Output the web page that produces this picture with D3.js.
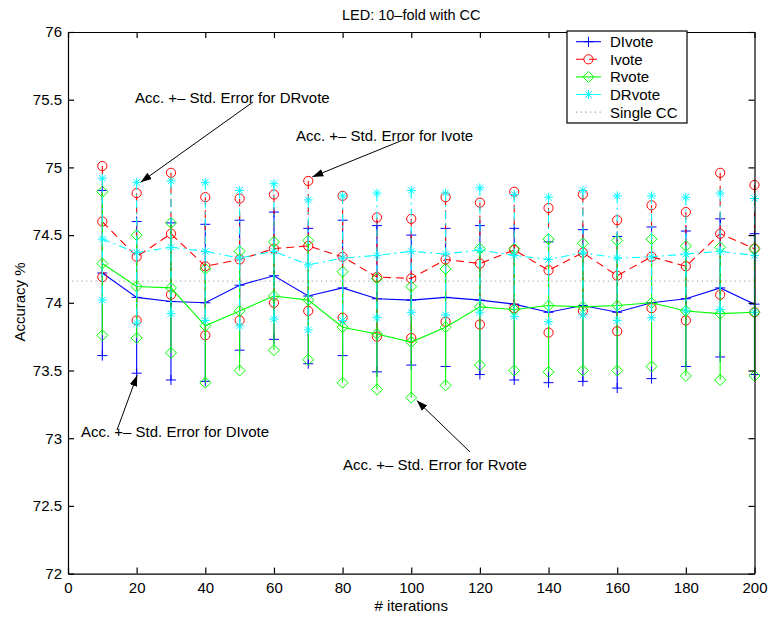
<!DOCTYPE html>
<html>
<head>
<meta charset="utf-8">
<script src="https://cdn.jsdelivr.net/npm/d3@7"></script>
<style>
  body { margin: 0; background: #fff; }
  svg text { font-family: "Liberation Sans", Arial, Helvetica, sans-serif; }
</style>
</head>
<body>
<div id="chart"></div>
<script>
// podaci ocitani sa slike (srednja vrijednost i std. greska)
var iterations = [10, 20, 30, 40, 50, 60, 70, 80, 90, 100, 110, 120, 130, 140, 150, 160, 170, 180, 190, 200];

var dIvoteMean = [74.22, 74.04, 74.01, 74.00, 74.13, 74.20, 74.05, 74.11, 74.03, 74.02, 74.04, 74.02, 73.99, 73.93, 73.98, 73.93, 74.00, 74.03, 74.11, 73.99];
var dIvoteErr  = [0.61, 0.56, 0.58, 0.58, 0.48, 0.47, 0.50, 0.50, 0.54, 0.48, 0.51, 0.55, 0.56, 0.52, 0.56, 0.56, 0.56, 0.50, 0.51, 0.52];

var ivoteMean = [74.60, 74.34, 74.51, 74.27, 74.32, 74.40, 74.42, 74.34, 74.19, 74.18, 74.32, 74.29, 74.39, 74.24, 74.37, 74.20, 74.34, 74.27, 74.51, 74.40];
var ivoteErr  = [0.41, 0.47, 0.45, 0.51, 0.45, 0.40, 0.48, 0.45, 0.44, 0.44, 0.46, 0.45, 0.43, 0.46, 0.43, 0.41, 0.38, 0.40, 0.45, 0.47];

var rvoteMean = [74.29, 74.12, 74.11, 73.83, 73.94, 74.05, 74.02, 73.82, 73.77, 73.71, 73.82, 73.97, 73.95, 73.98, 73.97, 73.98, 74.00, 73.94, 73.92, 73.93];
var rvoteErr  = [0.53, 0.38, 0.48, 0.42, 0.44, 0.40, 0.44, 0.41, 0.41, 0.41, 0.43, 0.43, 0.45, 0.49, 0.47, 0.48, 0.47, 0.48, 0.49, 0.47];

var dRvoteMean = [74.47, 74.37, 74.41, 74.38, 74.33, 74.38, 74.28, 74.33, 74.35, 74.38, 74.36, 74.39, 74.35, 74.32, 74.37, 74.33, 74.34, 74.36, 74.38, 74.35];
var dRvoteErr  = [0.45, 0.52, 0.49, 0.51, 0.50, 0.50, 0.48, 0.46, 0.46, 0.45, 0.45, 0.46, 0.45, 0.46, 0.46, 0.46, 0.45, 0.42, 0.43, 0.42];

var singleCC = 74.16;

var xTicks = [0, 20, 40, 60, 80, 100, 120, 140, 160, 180, 200];
var yTicks = [72, 72.5, 73, 73.5, 74, 74.5, 75, 75.5, 76];

var seriesNames = ["DIvote", "Ivote", "Rvote", "DRvote"];

function drawChart() {
    var width = 769, height = 618;
    var margin = { top: 32, right: 14.5, bottom: 44.4, left: 68 };
    var w = width - margin.left - margin.right;
    var h = height - margin.top - margin.bottom;

    var x = d3.scaleLinear().domain([0, 200]).range([0, w]);
    var y = d3.scaleLinear().domain([72, 76]).range([h, 0]);

    var svg = d3.select("#chart")
        .append("svg")
        .attr("width", width)
        .attr("height", height)
        .style("background-color", "#fff");

    var defs = svg.append("defs");
    defs.append("marker")
        .attr("id", "arrow")
        .attr("viewBox", "0 0 10 10")
        .attr("refX", 10)
        .attr("refY", 5)
        .attr("markerWidth", 11)
        .attr("markerHeight", 11)
        .attr("markerUnits", "userSpaceOnUse")
        .attr("orient", "auto")
        .append("path")
        .attr("d", "M0,1.5 L10,5 L0,8.5 Z")
        .attr("fill", "#000");

    var g = svg.append("g")
        .attr("transform", "translate(" + margin.left + "," + margin.top + ")");

    // stil za svaku seriju
    var series = [
        { name: seriesNames[0], mean: dIvoteMean, err: dIvoteErr, color: "#0000ff", dash: null, marker: "plus" },
        { name: seriesNames[1], mean: ivoteMean, err: ivoteErr, color: "#ff0000", dash: "8,5", marker: "circle" },
        { name: seriesNames[2], mean: rvoteMean, err: rvoteErr, color: "#00ff00", dash: null, marker: "diamond" },
        { name: seriesNames[3], mean: dRvoteMean, err: dRvoteErr, color: "#00ffff", dash: "8,4,2,4", marker: "star" }
    ];

    function markerPath(type, cx, cy) {
        if (type === "plus") {
            var s = 5;
            return "M" + (cx - s) + "," + cy + "H" + (cx + s) + "M" + cx + "," + (cy - s) + "V" + (cy + s);
        }
        if (type === "diamond") {
            var d = 5.5;
            return "M" + cx + "," + (cy - d) + "L" + (cx + d) + "," + cy + "L" + cx + "," + (cy + d) + "L" + (cx - d) + "," + cy + "Z";
        }
        if (type === "star") {
            var a = 4.5, b = 3.2;
            return "M" + (cx - a) + "," + cy + "H" + (cx + a) + "M" + cx + "," + (cy - a) + "V" + (cy + a) +
                "M" + (cx - b) + "," + (cy - b) + "L" + (cx + b) + "," + (cy + b) +
                "M" + (cx - b) + "," + (cy + b) + "L" + (cx + b) + "," + (cy - b);
        }
        return "";
    }

    function drawMarker(sel, type, cx, cy, color) {
        if (type === "circle") {
            sel.append("circle")
                .attr("cx", cx).attr("cy", cy).attr("r", 4.6)
                .attr("fill", "none").attr("stroke", color).attr("stroke-width", 1);
        } else {
            sel.append("path")
                .attr("d", markerPath(type, cx, cy))
                .attr("fill", "none").attr("stroke", color).attr("stroke-width", 1);
        }
    }

    // Single CC linija
    g.append("line")
        .attr("x1", x(0) + 4).attr("x2", x(200))
        .attr("y1", y(singleCC)).attr("y2", y(singleCC))
        .attr("stroke", "#999")
        .attr("stroke-dasharray", "1.2,3.5");

    var line = d3.line()
        .x(function (d, i) { return x(iterations[i]); })
        .y(function (d) { return y(d); });

    series.forEach(function (s) {
        var sg = g.append("g").attr("class", "series");

        sg.append("path")
            .datum(s.mean)
            .attr("d", line)
            .attr("fill", "none")
            .attr("stroke", s.color)
            .attr("stroke-width", 1.1)
            .attr("stroke-dasharray", s.dash);

        // vertikalne linije za +- std. error
        sg.selectAll(".bar")
            .data(s.mean)
            .enter()
            .append("line")
            .attr("class", "bar")
            .attr("x1", function (d, i) { return x(iterations[i]); })
            .attr("x2", function (d, i) { return x(iterations[i]); })
            .attr("y1", function (d, i) { return y(d + s.err[i]); })
            .attr("y2", function (d, i) { return y(d - s.err[i]); })
            .attr("stroke", s.color)
            .attr("stroke-width", 1.1)
            .attr("stroke-dasharray", s.dash);

        s.mean.forEach(function (m, i) {
            var cx = x(iterations[i]);
            drawMarker(sg, s.marker, cx, y(m + s.err[i]), s.color);
            drawMarker(sg, s.marker, cx, y(m), s.color);
            drawMarker(sg, s.marker, cx, y(m - s.err[i]), s.color);
        });
    });

    // osi (MATLAB stil, crtice prema unutra)
    var fmt = function (d) { return d % 1 === 0 ? d : d.toFixed(1); };

    g.append("g")
        .attr("transform", "translate(0," + h + ")")
        .call(d3.axisBottom(x).tickValues(xTicks).tickSizeInner(-6).tickSizeOuter(0).tickPadding(9));
    g.append("g")
        .call(d3.axisLeft(y).tickValues(yTicks).tickFormat(fmt).tickSizeInner(-6).tickSizeOuter(0).tickPadding(6));
    g.append("g")
        .call(d3.axisTop(x).tickValues(xTicks).tickFormat("").tickSizeInner(-6).tickSizeOuter(0));
    g.append("g")
        .attr("transform", "translate(" + w + ",0)")
        .call(d3.axisRight(y).tickValues(yTicks).tickFormat("").tickSizeInner(-6).tickSizeOuter(0));

    g.selectAll(".tick text")
        .style("font-size", "15px")
        .attr("fill", "#000");
    g.selectAll(".domain, .tick line")
        .attr("stroke", "#000")
        .attr("stroke-width", 1.2);

    // naslov i nazivi osi
    svg.append("text")
        .attr("x", margin.left + w / 2)
        .attr("y", 20)
        .attr("text-anchor", "middle")
        .style("font-size", "14.5px")
        .text("LED: 10\u2013fold with CC");

    svg.append("text")
        .attr("x", margin.left + w / 2)
        .attr("y", 611)
        .attr("text-anchor", "middle")
        .style("font-size", "15px")
        .text("# iterations");

    svg.append("text")
        .attr("transform", "rotate(-90)")
        .attr("x", -302)
        .attr("y", 25)
        .attr("text-anchor", "middle")
        .style("font-size", "15px")
        .text("Accuracy %");

    // anotacije sa strelicama
    var notes = [
        { text: "Acc. +\u2013 Std. Error for DRvote", tx: 135, ty: 103, ax: 253, ay: 102, px: 20, pv: dRvoteMean[1] + dRvoteErr[1], dx: 4, dy: 0 },
        { text: "Acc. +\u2013 Std. Error for Ivote", tx: 296, ty: 141, ax: 403, ay: 140, px: 70, pv: ivoteMean[6] + ivoteErr[6], dx: 4, dy: -4 },
        { text: "Acc. +\u2013 Std. Error for DIvote", tx: 81, ty: 437, ax: 117, ay: 430, px: 20, pv: dIvoteMean[1] - dIvoteErr[1], dx: 0.5, dy: 2 },
        { text: "Acc. +\u2013 Std. Error for Rvote", tx: 343, ty: 470, ax: 470, ay: 452, px: 100, pv: rvoteMean[9] - rvoteErr[9], dx: 5.5, dy: 3 }
    ];

    notes.forEach(function (n) {
        svg.append("line")
            .attr("x1", n.ax).attr("y1", n.ay)
            .attr("x2", margin.left + x(n.px) + n.dx)
            .attr("y2", margin.top + y(n.pv) + n.dy)
            .attr("stroke", "#000")
            .attr("stroke-width", 1)
            .attr("marker-end", "url(#arrow)");
        svg.append("text")
            .attr("x", n.tx)
            .attr("y", n.ty)
            .style("font-size", "15px")
            .text(n.text);
    });

    // legenda
    var legend = svg.append("g").attr("transform", "translate(567,31)");
    legend.append("rect")
        .attr("width", 120).attr("height", 92)
        .attr("fill", "#fff").attr("stroke", "#000").attr("stroke-width", 1.2);

    var legendItems = series.concat([{ name: "Single CC", color: "#999", dash: "1.2,3.5", marker: null }]);
    legendItems.forEach(function (s, i) {
        var ly = 10.7 + i * 17.6;
        legend.append("line")
            .attr("x1", 9).attr("x2", 34)
            .attr("y1", ly).attr("y2", ly)
            .attr("stroke", s.color)
            .attr("stroke-width", 1.1)
            .attr("stroke-dasharray", s.dash);
        if (s.marker) drawMarker(legend, s.marker, 21.5, ly, s.color);
        legend.append("text")
            .attr("x", 43)
            .attr("y", ly + 5.5)
            .style("font-size", "15px")
            .text(s.name);
    });
}

document.addEventListener("DOMContentLoaded", drawChart);
</script>
</body>
</html>
